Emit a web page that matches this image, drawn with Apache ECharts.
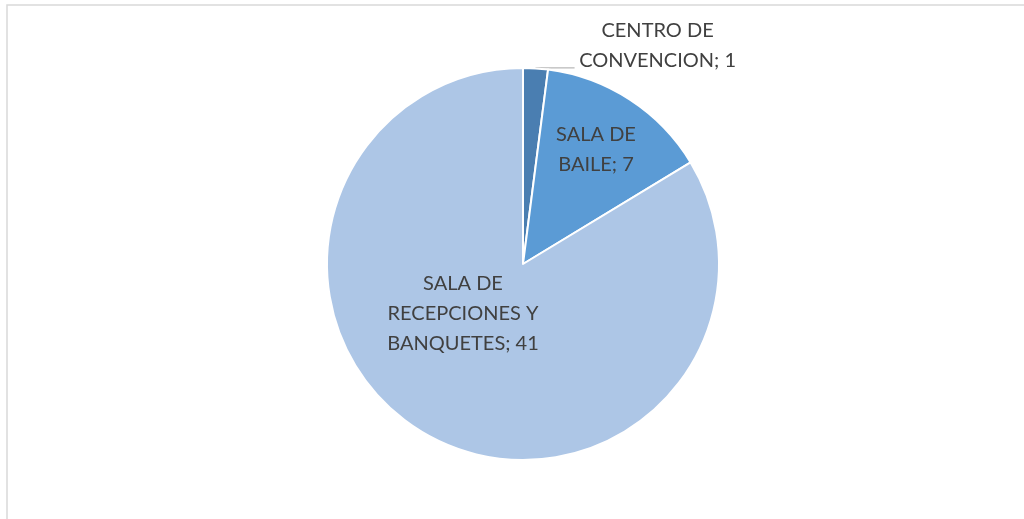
<!DOCTYPE html>
<html><head><meta charset="utf-8">
<script src="https://cdn.jsdelivr.net/npm/echarts@6/dist/echarts.min.js"></script>
<style>html,body{margin:0;padding:0;background:#fff}#c{width:1024px;height:519px}</style>
</head><body><div id="c"></div>
<script>
const categories = ['CENTRO DE\nCONVENCION', 'SALA DE\nBAILE', 'SALA DE\nRECEPCIONES Y\nBANQUETES'];
const values = [1, 7, 41];
const colors = ['#4a7eb1', '#5b9bd5', '#adc6e6'];

const chart = echarts.init(document.getElementById('c'), null, {renderer: 'canvas'});
const CX = 523, CY = 264, R = 196;
const FONT = 'Lato, "Open Sans", sans-serif';
chart.setOption({
  animation: false,
  graphic: [{type: 'rect', shape: {x: 7, y: 5, width: 1200, height: 700}, style: {fill: 'none', stroke: '#d9d9d9', lineWidth: 1.5}, silent: true}],
  series: [{
    type: 'pie',
    center: [CX, CY],
    radius: R,
    startAngle: 90,
    clockwise: true,
    avoidLabelOverlap: false,
    itemStyle: {borderColor: '#fff', borderWidth: 2},
    data: categories.map((c, i) => {
      const d = {name: c, value: values[i], itemStyle: {color: colors[i]}};
      if (i === 0) {
        d.label = {
          position: 'outside',
          distanceToLabelLine: 3,
          formatter: p => p.name.split('\n').map((s, k, arr) => '{t|' + s + (k === arr.length - 1 ? '; ' + p.value : '') + '}').join('\n'),
          padding: [0, 0, 44, 0],
          rich: {t: {width: 160, align: 'center', color: '#404040', fontFamily: FONT, fontSize: 20, lineHeight: 30}}
        };
        d.labelLine = {show: true, length: 0.5, length2: 39, smooth: false, lineStyle: {color: '#a6a6a6', width: 1}};
      }
      return d;
    }),
    label: {
      show: true,
      position: 'inside',
      formatter: p => p.name + '; ' + p.value,
      color: '#404040',
      fontFamily: FONT,
      fontSize: 20,
      lineHeight: 30,
      align: 'center'
    },
    labelLine: {show: false},
    labelLayout: function (p) {
      const i = p.dataIndex;
      if (i === 1) return {x: 596, y: 150, align: 'center', verticalAlign: 'middle'};
      if (i === 2) return {x: 463, y: 314, align: 'center', verticalAlign: 'middle'};
      return {};
    }
  }]
});
</script></body></html>
